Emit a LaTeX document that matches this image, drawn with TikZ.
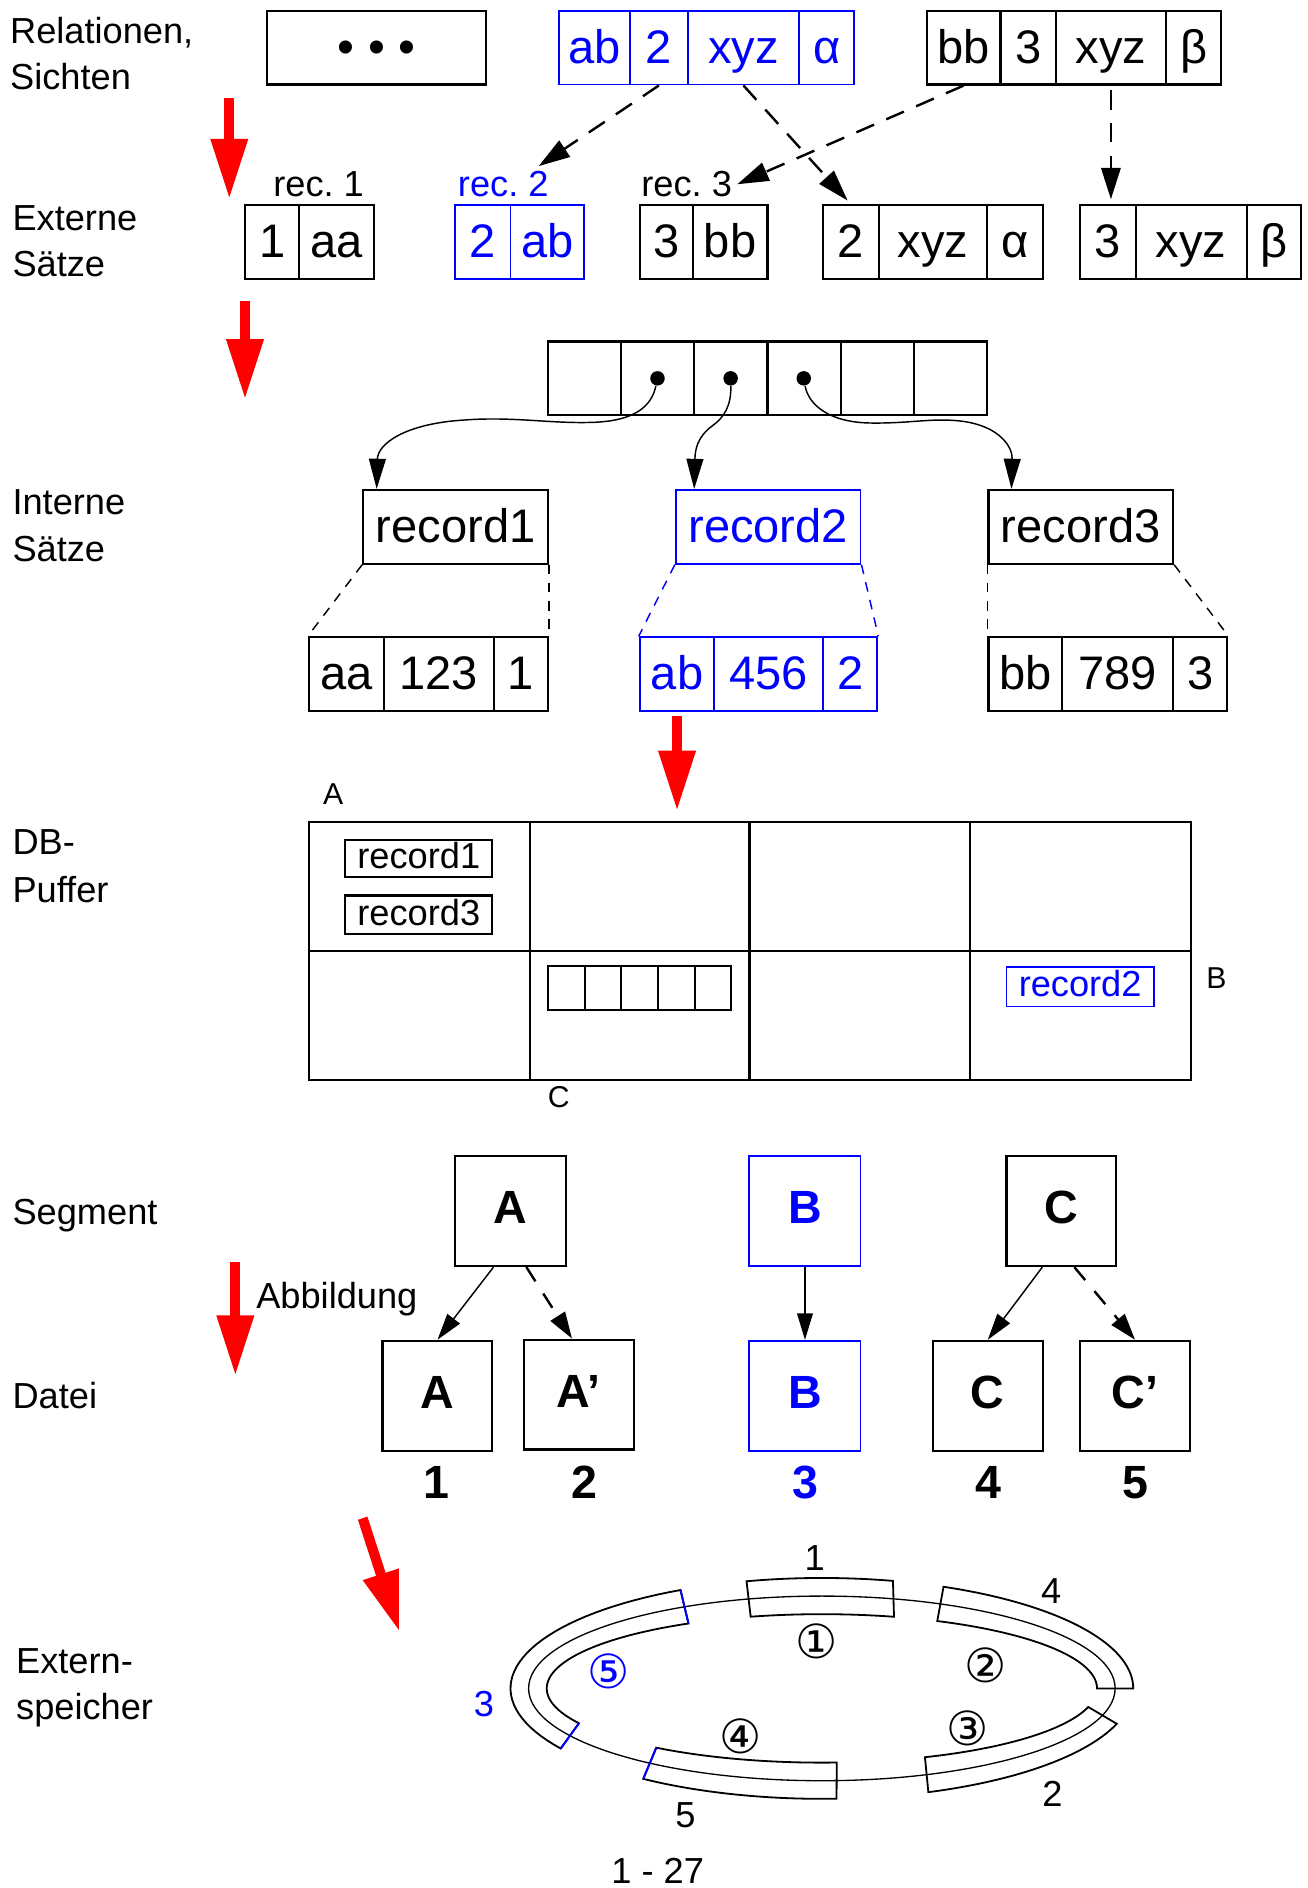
\documentclass[tikz,border=0pt]{standalone}
\usepackage{fontspec}
\setmainfont{Liberation Sans}
\newfontfamily\djv{DejaVu Sans}
\usetikzlibrary{arrows.meta,calc}
\frenchspacing
\tikzset{
  lbl/.style={inner sep=0pt, anchor=base west, font=\fontsize{15}{18}\selectfont},
  cellst/.style={draw, line width=0.9pt, inner sep=0pt, font=\fontsize{19.5}{22}\selectfont, text height=15.6pt, text depth=2.6pt},
  bl/.style={draw=blue, text=blue, line width=0.8pt},
  smallcell/.style={font=\fontsize{15}{18}\selectfont, text height=11.3pt, text depth=2.8pt},
  boldcell/.style={font=\fontsize{19.3}{22}\bfseries\selectfont, text height=14.5pt, text depth=3.9pt},
  reclbl/.style={inner sep=2pt, anchor=base, font=\fontsize{15}{18}\selectfont},
  ptdot/.style={circle, fill=black, inner sep=0pt, minimum size=6pt},
  ptr/.style={line width=0.6pt, -{Triangle[length=12.5pt,width=7pt]}},
  dashar/.style={line width=1pt, dash pattern=on 8pt off 5.5pt, -{Triangle[length=13pt,width=8pt]}},
  fdash/.style={line width=0.6pt, dash pattern=on 4pt off 3.5pt},
  redarrow/.style={draw=red, line width=4.15pt, -{Triangle[length=25pt,width=14.5pt]}},
  segar/.style={line width=0.6pt, -{Triangle[length=11pt,width=6.5pt]}},
  segdash/.style={line width=1pt, dash pattern=on 7pt off 6pt, -{Triangle[length=11pt,width=7pt]}},
  band/.style={line width=0.75pt},
  numlbl/.style={inner sep=0pt, font=\fontsize{15}{18}\selectfont},
  circlbl/.style={inner sep=0pt, font=\djv\fontsize{19.5}{22}\selectfont},
  bignum/.style={inner sep=0pt, anchor=base, font=\fontsize{19.3}{22}\bfseries\selectfont},
  abclbl/.style={inner sep=0pt, anchor=base, font=\fontsize{12.5}{15}\selectfont},
}
\newcommand{\cbx}[7][]{\node[cellst,#1,minimum width={(#4-#3)*0.5pt},minimum height={(#6-#5)*0.5pt}] (#2) at ({(#3+#4)/2},{(#5+#6)/2}) {#7};}
\newcommand{\band}[4]{\draw[band] plot[domain=#1:#2,samples=40] ({681+258*cos(\x)},{1399-91.5*sin(\x)}) -- plot[domain=#3:#4,samples=40] ({681+228*cos(\x)},{1399-61.5*sin(\x)}) -- cycle;}
\newcommand{\bcap}[2]{\draw[blue,line width=0.8pt] ({681+258*cos(#1)},{1399-91.5*sin(#1)}) -- ({681+228*cos(#2)},{1399-61.5*sin(#2)});}
\begin{document}
\begin{tikzpicture}[x=0.5pt,y=-0.5pt]
\useasboundingbox (0,0) rectangle (1083,1564.4);

% left labels
\node[lbl] (L1) at (8,36) {Relationen,};
\node[lbl] (L2) at (8,74) {Sichten};
\node[lbl] (L3) at (10,191) {Externe};
\node[lbl] (L4) at (10,229) {Sätze};
\node[lbl] (L5) at (10,426) {Interne};
\node[lbl] (L6) at (10,465) {Sätze};
\node[lbl] (L7) at (10,708) {DB-};
\node[lbl] (L8) at (10,748) {Puffer};
\node[lbl] (L9) at (10,1015) {Segment};
\node[lbl] (L10) at (10,1167) {Datei};
\node[lbl] (L11) at (13,1387) {Extern-};
\node[lbl] (L12) at (13,1425) {speicher};
\node[lbl] (L13) at (212,1084) {Abbildung};

% red arrows
\coordinate (ra1s) at (190,81.5); \coordinate (ra1e) at (190,165);
\coordinate (ra2s) at (203,249); \coordinate (ra2e) at (203,331);
\coordinate (ra3s) at (561,593); \coordinate (ra3e) at (561,672);
\coordinate (ra4s) at (195,1046); \coordinate (ra4e) at (195,1140);
\coordinate (ra5s) at (300.5,1258); \coordinate (ra5e) at (331,1352);
\draw[redarrow] (ra1s) -- (ra1e);
\draw[redarrow] (ra2s) -- (ra2e);
\draw[redarrow] (ra3s) -- (ra3e);
\draw[redarrow] (ra4s) -- (ra4e);
\draw[redarrow] (ra5s) -- (ra5e);

% row 1: relations
\cbx{r0}{221}{403}{9}{70}{\fontsize{20}{22}\selectfont • • •}
\cbx[bl]{r1a}{463}{522}{9}{70}{ab}
\cbx[bl]{r1b}{522}{570}{9}{70}{2}
\cbx[bl]{r1c}{570}{662}{9}{70}{xyz}
\cbx[bl]{r1d}{662}{708}{9}{70}{α}
\cbx{r2a}{768}{829}{9}{70}{bb}
\cbx{r2b}{829}{875}{9}{70}{3}
\cbx{r2c}{875}{966}{9}{70}{xyz}
\cbx{r2d}{966}{1012}{9}{70}{β}

% row 2: external records
\node[reclbl] (rec1) at (264,163) {rec. 1};
\node[reclbl,text=blue] (rec2) at (417,163) {rec. 2};
\node[reclbl] (rec3) at (569,163) {rec. 3};
\cbx{e1a}{203}{248}{170}{231}{1}
\cbx{e1b}{248}{310}{170}{231}{aa}
\cbx[bl]{e2a}{377}{423}{170}{231}{2}
\cbx[bl]{e2b}{423}{484}{170}{231}{ab}
\cbx{e3a}{530}{574}{170}{231}{3}
\cbx{e3b}{574}{636}{170}{231}{bb}
\cbx{e4a}{682}{728}{170}{231}{2}
\cbx{e4b}{728}{818}{170}{231}{xyz}
\cbx{e4c}{818}{864}{170}{231}{α}
\cbx{e5a}{895}{941}{170}{231}{3}
\cbx{e5b}{941}{1033}{170}{231}{xyz}
\cbx{e5c}{1033}{1078}{170}{231}{β}

\draw[dashar] (r1b.south) -- ($(rec2.north)!0.7!(rec2.north east)$);
\draw[dashar, shorten >=2pt] (r1c.south) -- (e4a.north);
\draw[dashar] (r2a.south) -- (rec3.east);
\draw[dashar, shorten <=2pt, shorten >=2pt] (r2c.south) -- (r2c.south |- e5a.north);

% row 3: pointer array and internal records
\cbx{p1}{454}{514.7}{283}{344}{}
\cbx{p2}{514.7}{575.3}{283}{344}{}
\cbx{p3}{575.3}{636}{283}{344}{}
\cbx{p4}{636}{696.7}{283}{344}{}
\cbx{p5}{696.7}{757.3}{283}{344}{}
\cbx{p6}{757.3}{818}{283}{344}{}
\node[ptdot] (d1) at (544.8,313.5) {};
\node[ptdot] (d2) at (605.4,313.5) {};
\node[ptdot] (d3) at (666,313.5) {};

\cbx{ir1}{301}{454}{406}{467}{record1}
\cbx[bl]{ir2}{560}{713}{406}{467}{record2}
\cbx{ir3}{819}{972}{406}{467}{record3}

\draw[ptr] (d1) .. controls (540,336) and (527,349) .. (490,350) .. controls (455,351) and (425,345) .. (385,348) .. controls (335,351) and (313,368) .. ($(ir1.north west)+(12,0)$);
\draw[ptr] (d2) .. controls (606,336) and (600,346) .. (590,353) .. controls (578,362) and (576,372) .. ($(ir2.north west)+(16,0)$);
\draw[ptr] (d3) .. controls (670,336) and (688,350) .. (721,350.5) .. controls (755,351) and (772,346) .. (797,349) .. controls (828,353) and (839,370) .. ($(ir3.north west)+(20,0)$);

\cbx{f1a}{256}{318}{528}{589}{aa}
\cbx{f1b}{318}{409}{528}{589}{123}
\cbx{f1c}{409}{454}{528}{589}{1}
\cbx[bl]{f2a}{530}{592}{528}{589}{ab}
\cbx[bl]{f2b}{592}{682}{528}{589}{456}
\cbx[bl]{f2c}{682}{727}{528}{589}{2}
\cbx{f3a}{819}{880}{528}{589}{bb}
\cbx{f3b}{880}{972}{528}{589}{789}
\cbx{f3c}{972}{1017}{528}{589}{3}

\draw[fdash] (ir1.south west) -- (f1a.north west);
\draw[fdash] (ir1.south east) -- (f1c.north east);
\draw[fdash,blue] (ir2.south west) -- (f2a.north west);
\draw[fdash,blue] (ir2.south east) -- (f2c.north east);
\draw[fdash] (ir3.south west) -- (f3a.north west);
\draw[fdash] (ir3.south east) -- (f3c.north east);

% DB buffer
\cbx{g11}{256}{439}{681}{788}{}
\cbx{g12}{439}{621}{681}{788}{}
\cbx{g13}{621}{804}{681}{788}{}
\cbx{g14}{804}{987}{681}{788}{}
\cbx{g21}{256}{439}{788}{895}{}
\cbx{g22}{439}{621}{788}{895}{}
\cbx{g23}{621}{804}{788}{895}{}
\cbx{g24}{804}{987}{788}{895}{}
\cbx[smallcell]{b1}{286}{408}{696}{727}{record1}
\cbx[smallcell]{b3}{286}{408}{742}{774}{record3}
\cbx[smallcell,bl]{b2}{834}{956}{801}{834}{record2}
\cbx{c1}{454}{484.4}{803}{834}{}
\cbx{c2}{484.4}{514.8}{803}{834}{}
\cbx{c3}{514.8}{545.2}{803}{834}{}
\cbx{c4}{545.2}{575.6}{803}{834}{}
\cbx{c5}{575.6}{606}{803}{834}{}
\node[abclbl] (lA) at (276,667) {A};
\node[abclbl] (lB) at (1008,819) {B};
\node[abclbl] (lC) at (463,918) {C};

% segments and files
\cbx[boldcell]{sA}{377}{469}{958}{1049}{A}
\cbx[boldcell,bl]{sB}{621}{713}{958}{1049}{B}
\cbx[boldcell]{sC}{834}{925}{958}{1049}{C}
\cbx[boldcell]{fA}{317}{408}{1111}{1202}{A}
\cbx[boldcell]{fA2}{434}{525}{1110}{1201}{A’}
\cbx[boldcell,bl]{fB}{621}{713}{1111}{1202}{B}
\cbx[boldcell]{fC}{773}{864}{1111}{1202}{C}
\cbx[boldcell]{fC2}{895}{986}{1111}{1202}{C’}

\draw[segar] ($(sA.south west)!0.35!(sA.south east)$) -- (fA.north);
\draw[segdash] ($(sA.south west)!0.64!(sA.south east)$) -- ($(fA2.north west)!0.44!(fA2.north east)$);
\draw[segar] (sB.south) -- (fB.north);
\draw[segar] ($(sC.south west)!0.33!(sC.south east)$) -- (fC.north);
\draw[segdash] ($(sC.south west)!0.615!(sC.south east)$) -- (fC2.north);

\node[bignum] (n1) at (362,1242) {1};
\node[bignum] (n2) at (484,1242) {2};
\node[bignum,text=blue] (n3) at (667,1242) {3};
\node[bignum] (n4) at (819,1242) {4};
\node[bignum] (n5) at (941,1242) {5};

% external storage
\draw[line width=0.55pt] (681,1399) ellipse [x radius=121.5pt, y radius=38.25pt];
\band{104}{76.8}{74.8}{105}
\band{67}{0}{0}{65.2}
\band{-18.7}{-70}{-68}{-14.5}
\band{-125}{-87.3}{-86.9}{-127}
\band{117}{213}{208}{119}
\bcap{117}{119}
\bcap{213}{208}
\bcap{-125}{-127}

\node[numlbl] (el1) at (675,1291) {1};
\node[numlbl] (el4) at (871,1318) {4};
\node[numlbl] (el2) at (872,1486.5) {2};
\node[numlbl] (el5) at (568,1504) {5};
\node[numlbl,text=blue] (el3) at (401,1412) {3};
\node[numlbl] (pg) at (545,1550) {1 - 27};
\node[circlbl] (k1) at (676.5,1360) {①};
\node[circlbl] (k2) at (817,1380) {②};
\node[circlbl] (k3) at (801.5,1432) {③};
\node[circlbl] (k4) at (613.5,1439) {④};
\node[circlbl,text=blue] (k5) at (504.5,1385) {⑤};
\end{tikzpicture}
\end{document}
